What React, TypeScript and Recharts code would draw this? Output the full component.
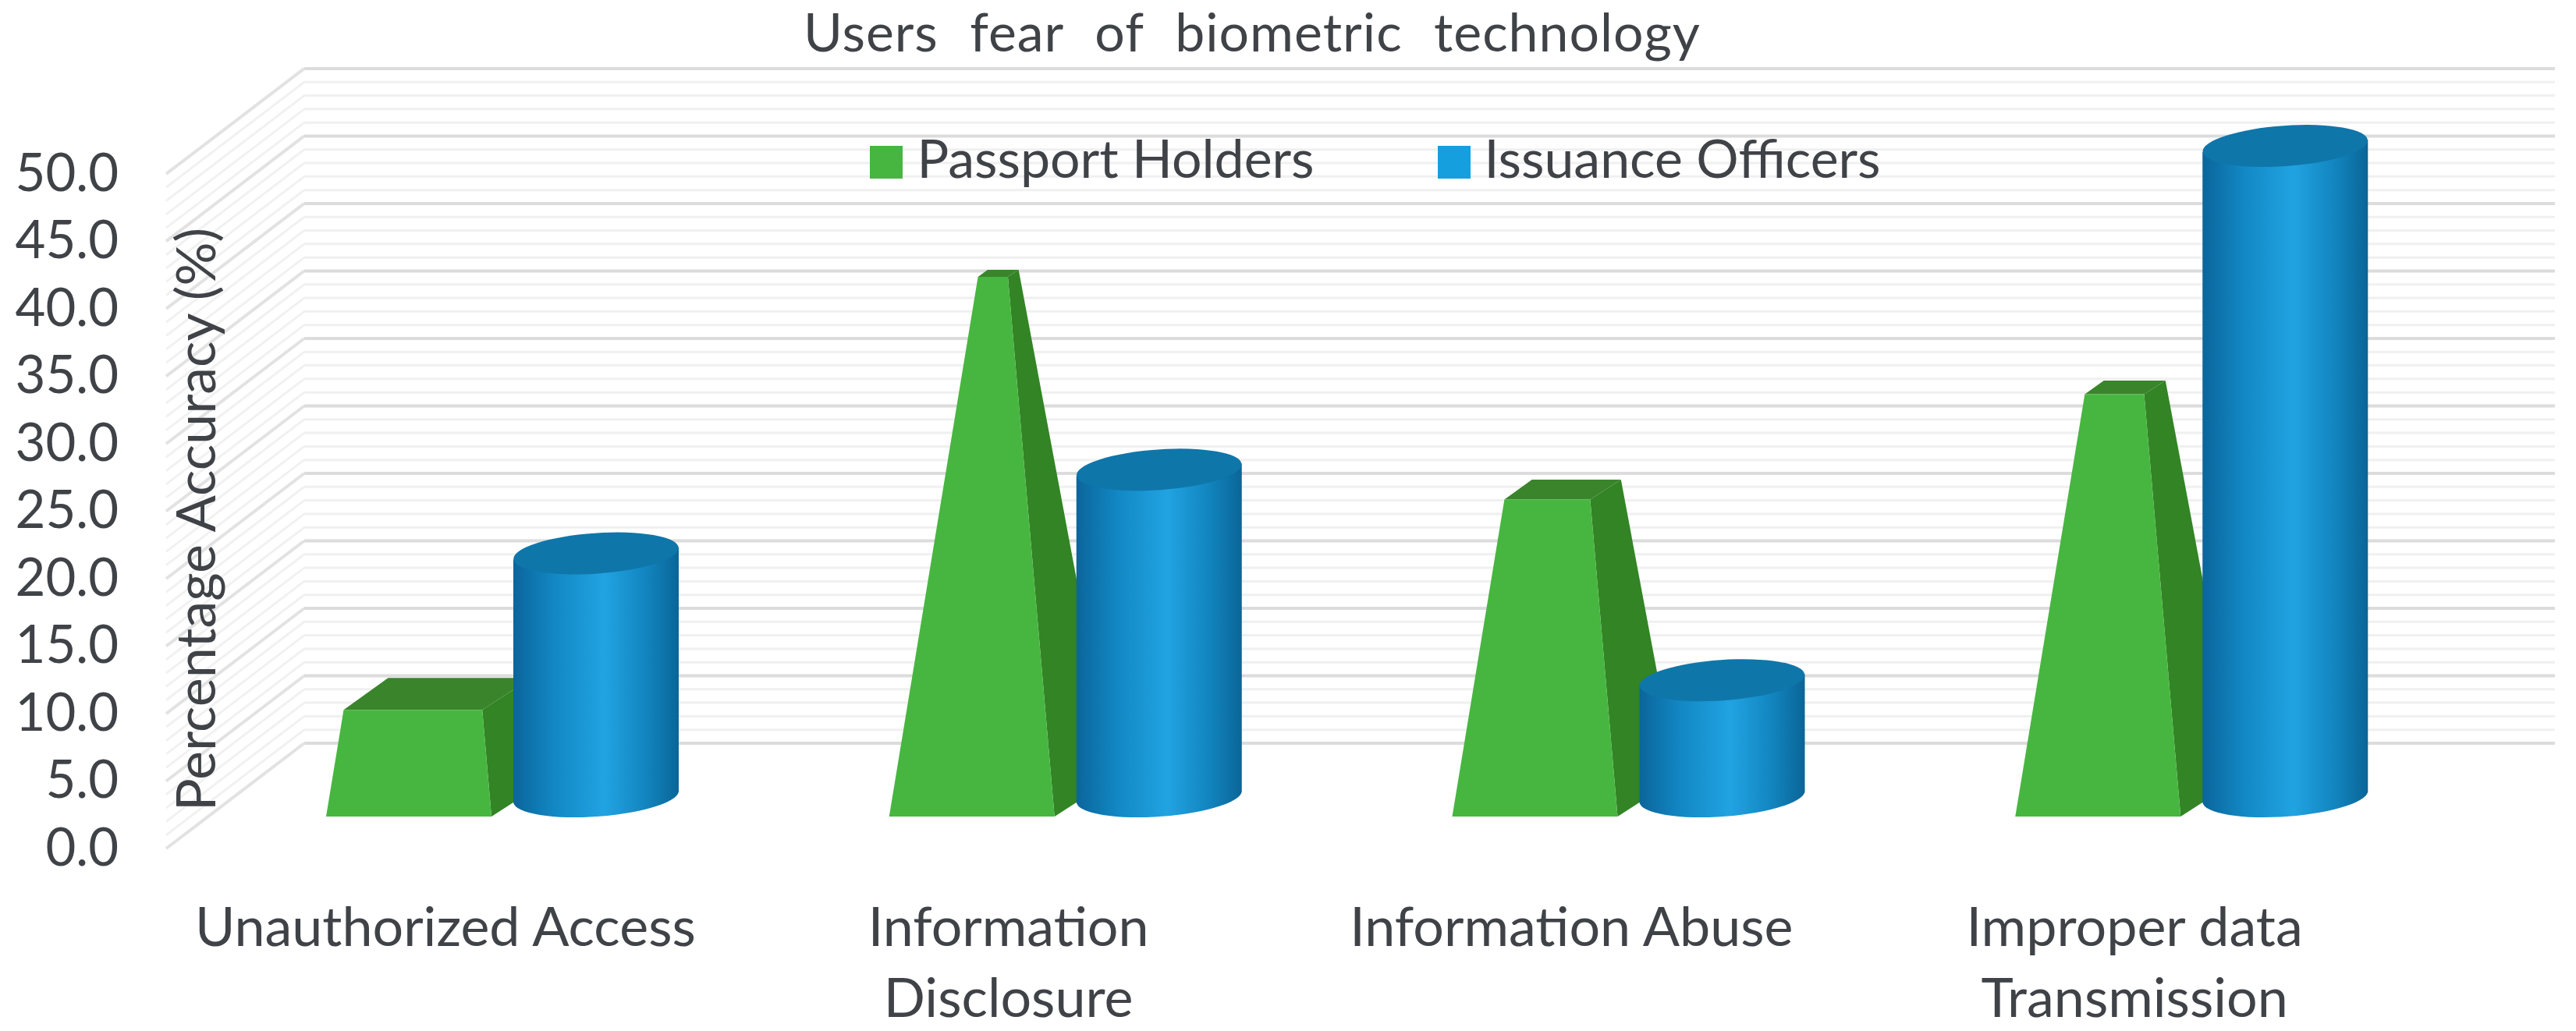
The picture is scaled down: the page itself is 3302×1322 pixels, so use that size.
import React from "react";
import { BarChart, Bar, XAxis, YAxis, Legend, CartesianGrid } from "recharts";

const categories = [
  "Unauthorized Access",
  "Information\nDisclosure",
  "Information Abuse",
  "Improper data\nTransmission",
];
const passportHolders = [7.9, 40, 23.5, 31.3];
const issuanceOfficers = [18, 24.2, 8.6, 48.2];
const yTicks = [0, 5, 10, 15, 20, 25, 30, 35, 40, 45, 50];
const wallLevels = Array.from({ length: 51 }, (_, i) => i);

const chartData = categories.map((name, i) => ({
  name,
  passport: passportHolders[i],
  officers: issuanceOfficers[i],
}));

const FONT = "Lato, Carlito, sans-serif";
const TEXT = "#3f4347";

// the axis scale is the front edge of the floor; bars and wall sit further back
const BAR_SHIFT = 41;
const WALL_DX = 177;
const WALL_DY = 135;

// pyramid, cut off at its value: corners slide towards a shared apex
const APEX_X = 139;
const APEX_H = 845;

function PyramidBar(props: any) {
  const { x, y, width, height } = props;
  const by = y + height - BAR_SHIFT;
  const t = height / APEX_H;
  const at = (c: number[]) =>
    `${x + c[0] * (1 - t) + APEX_X * t},${by + c[1] * (1 - t) - APEX_H * t}`;
  const fl = [0, 0];
  const fr = [width, 0];
  const bl = [68, -49];
  const br = [width + 76, -49];
  return (
    <g>
      <polygon
        points={`${x + width},${by} ${x + br[0]},${by + br[1]} ${at(br)} ${at(fr)}`}
        fill="#328424"
      />
      <polygon points={`${at(fl)} ${at(fr)} ${at(br)} ${at(bl)}`} fill="#3a852c" />
      <polygon points={`${x},${by} ${x + width},${by} ${at(fr)} ${at(fl)}`} fill="#47b640" />
    </g>
  );
}

function CylinderBar(props: any) {
  const { x, y, width, height } = props;
  const lift = BAR_SHIFT + 26; // ellipse centre sits behind the front baseline
  const tilt = 8;
  const rx = width / 2;
  const ry = 26;
  const top = y - lift;
  const base = y + height - lift;
  const xr = x + width;
  return (
    <g>
      <path
        d={`M${x},${top + tilt} L${x},${base + tilt} A${rx},${ry} -4 0 0 ${xr},${base - tilt} L${xr},${top - tilt} Z`}
        fill="url(#cylinderSide)"
      />
      <ellipse
        cx={x + rx}
        cy={top}
        rx={rx}
        ry={ry}
        transform={`rotate(-4 ${x + rx} ${top})`}
        fill="#0f76aa"
      />
    </g>
  );
}

function WallLine(props: any) {
  const { x1, x2, y1, index } = props;
  const major = index % 5 === 0;
  return (
    <g>
      <line
        x1={x1}
        y1={y1}
        x2={x1 + WALL_DX}
        y2={y1 - WALL_DY}
        stroke={major ? "#e2e2e2" : "#f1f1f1"}
        strokeWidth={major ? 4 : 3}
      />
      <line
        x1={x1 + WALL_DX}
        y1={y1 - WALL_DY}
        x2={x2}
        y2={y1 - WALL_DY}
        stroke={major ? "#dcdcdc" : "#f0f0f0"}
        strokeWidth={major ? 4 : 3}
      />
    </g>
  );
}

function CategoryTick(props: any) {
  const { x, y, payload } = props;
  const lines = String(payload.value).split("\n");
  return (
    <text x={x - 73} y={y + 117} textAnchor="middle" fontFamily={FONT} fontSize={70} fill={TEXT}>
      {lines.map((line, i) => (
        <tspan key={line} x={x - 73} dy={i === 0 ? 0 : 91}>
          {line}
        </tspan>
      ))}
    </text>
  );
}

export default function App() {
  return (
    <div style={{ position: "absolute", left: 0, top: 0, width: 3302, height: 1322, background: "#fff" }}>
      <BarChart
        width={3302}
        height={1322}
        data={chartData}
        margin={{ top: 88, right: 27, bottom: 0, left: 0 }}
        barSize={212}
        barGap={28}
      >
        <defs>
          <linearGradient id="cylinderSide" x1="0" y1="0" x2="1" y2="0">
            <stop offset="0%" stopColor="#0b659b" />
            <stop offset="25%" stopColor="#1288c4" />
            <stop offset="55%" stopColor="#21a3e2" />
            <stop offset="80%" stopColor="#1285bf" />
            <stop offset="100%" stopColor="#0a6597" />
          </linearGradient>
        </defs>
        <text
          x={1605}
          y={66}
          textAnchor="middle"
          fontFamily={FONT}
          fontSize={68}
          fill={TEXT}
          letterSpacing={1}
          wordSpacing={22}
        >
          Users fear of biometric technology
        </text>
        <CartesianGrid vertical={false} horizontalValues={wallLevels} horizontal={<WallLine />} />
        <XAxis
          dataKey="name"
          height={234}
          axisLine={false}
          tickLine={false}
          interval={0}
          padding={{ left: 70, right: 105 }}
          tick={<CategoryTick />}
        />
        <YAxis
          width={213}
          domain={[0, 57.8]}
          ticks={yTicks}
          interval={0}
          axisLine={false}
          tickLine={false}
          tickMargin={55}
          tickFormatter={(v: number) => v.toFixed(1)}
          tick={{ fontFamily: FONT, fontSize: 67, fill: TEXT, dy: -2 }}
          label={{
            value: "Percentage Accuracy (%)",
            angle: -90,
            position: "center",
            dx: 145,
            dy: 78,
            style: { fontFamily: FONT, fontSize: 70, fill: TEXT },
          }}
        />
        <Legend
          layout="horizontal"
          verticalAlign="middle"
          iconType="square"
          iconSize={42}
          itemSorter={null}
          wrapperStyle={{ left: 1114, top: 145, width: 1456, height: 80 }}
          formatter={(value: string) => (
            <span
              style={{
                fontFamily: FONT,
                fontSize: 68,
                color: TEXT,
                marginLeft: 14,
                marginRight: 148,
                position: "relative",
                top: 16,
              }}
            >
              {value}
            </span>
          )}
        />
        <Bar dataKey="passport" name="Passport Holders" fill="#47b640" shape={<PyramidBar />} isAnimationActive={false} />
        <Bar dataKey="officers" name="Issuance Officers" fill="#159fdf" shape={<CylinderBar />} isAnimationActive={false} />
      </BarChart>
    </div>
  );
}
